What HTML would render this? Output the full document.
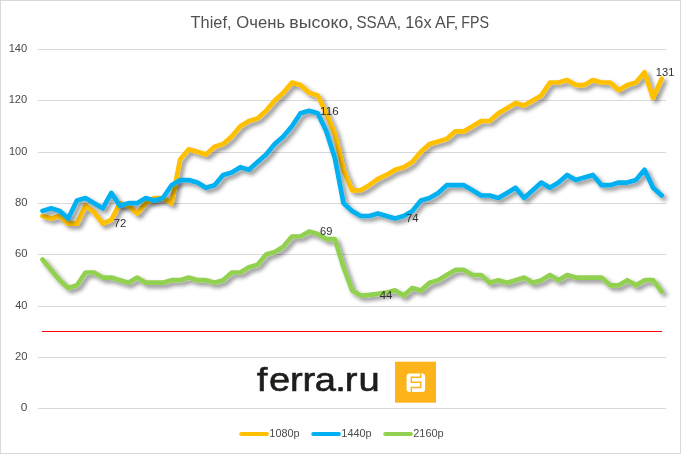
<!DOCTYPE html>
<html><head><meta charset="utf-8"><title>Thief, Очень высоко, SSAA, 16x AF, FPS</title>
<style>
html,body{margin:0;padding:0;background:#fff;}
svg{display:block;}
text{font-family:'Liberation Sans', Arial, sans-serif;}
.ax{font-size:10.8px;fill:#4a4a4a;}
.dl{font-size:10.8px;fill:#2e2e2e;}
.lg{font-size:10.8px;fill:#4a4a4a;}
.ttl{font-size:17.0px;fill:#505050;}
.logo{font-size:33.8px;fill:#1d1d1b;stroke:#1d1d1b;stroke-width:0.6;stroke-linejoin:round;}
.ser{fill:none;stroke-width:4.7;stroke-linecap:round;stroke-linejoin:round;}
</style></head>
<body>
<svg width="681" height="454" viewBox="0 0 681 454">
<defs>
<filter id="sh" x="-5%" y="-20%" width="110%" height="150%">
<feGaussianBlur in="SourceAlpha" stdDeviation="2.0"/>
<feOffset dx="2.6" dy="2.6" result="o"/>
<feComponentTransfer><feFuncA type="linear" slope="0.45"/></feComponentTransfer>
<feMerge><feMergeNode/><feMergeNode in="SourceGraphic"/></feMerge>
</filter>
</defs>
<rect x="0" y="0" width="681" height="454" fill="#fff"/>
<rect x="0.5" y="0.5" width="680" height="453" fill="none" stroke="#d9d9d9" stroke-width="1"/>
<text class="ttl"><tspan x="190.55" y="27.6" textLength="40.97" lengthAdjust="spacingAndGlyphs">Thief,</tspan> <tspan x="236.35" y="27.6" textLength="48.75" lengthAdjust="spacingAndGlyphs">Очень</tspan> <tspan x="289.35" y="27.6" textLength="63.82" lengthAdjust="spacingAndGlyphs">высоко,</tspan> <tspan x="356.45" y="27.6" textLength="44.59" lengthAdjust="spacingAndGlyphs">SSAA,</tspan> <tspan x="405.25" y="27.6" textLength="26.37" lengthAdjust="spacingAndGlyphs">16x</tspan> <tspan x="435.00" y="27.6" textLength="23.23" lengthAdjust="spacingAndGlyphs">AF,</tspan> <tspan x="461.35" y="27.6" textLength="27.73" lengthAdjust="spacingAndGlyphs">FPS</tspan></text>
<rect x="38" y="408" width="628" height="1" fill="#d9d9d9"/>
<rect x="38" y="357" width="628" height="1" fill="#d9d9d9"/>
<rect x="38" y="306" width="628" height="1" fill="#d9d9d9"/>
<rect x="38" y="254" width="628" height="1" fill="#d9d9d9"/>
<rect x="38" y="203" width="628" height="1" fill="#d9d9d9"/>
<rect x="38" y="152" width="628" height="1" fill="#d9d9d9"/>
<rect x="38" y="100" width="628" height="1" fill="#d9d9d9"/>
<rect x="38" y="49" width="628" height="1" fill="#d9d9d9"/>
<text x="20.80" y="411.2" textLength="6.63" lengthAdjust="spacingAndGlyphs" class="ax">0</text>
<text x="14.90" y="360.2" textLength="12.56" lengthAdjust="spacingAndGlyphs" class="ax">20</text>
<text x="15.15" y="309.2" textLength="12.28" lengthAdjust="spacingAndGlyphs" class="ax">40</text>
<text x="14.90" y="257.2" textLength="12.56" lengthAdjust="spacingAndGlyphs" class="ax">60</text>
<text x="14.90" y="206.2" textLength="12.56" lengthAdjust="spacingAndGlyphs" class="ax">80</text>
<text x="8.95" y="155.2" textLength="18.29" lengthAdjust="spacingAndGlyphs" class="ax">100</text>
<text x="8.65" y="103.2" textLength="18.56" lengthAdjust="spacingAndGlyphs" class="ax">120</text>
<text x="8.65" y="52.2" textLength="18.56" lengthAdjust="spacingAndGlyphs" class="ax">140</text>

<!-- logo -->
<text class="logo" transform="scale(1.13,1)" y="391.4" x="227.13 238.07 256.62 267.72 278.65 296.64 305.02 317.30">ferra.ru</text>
<rect x="395" y="361.7" width="41" height="41" fill="#fdb41a"/>
<rect x="406.6" y="373.4" width="18.5" height="18.6" rx="3" ry="3" fill="#fff"/>
<path d="M420.8 373.4 V377.3 H411.3 V382.3 H420.8 V387.5 H411.3 V392" fill="none" stroke="#fdb41a" stroke-width="1.4"/>
<!-- red line -->
<rect x="42" y="331" width="620" height="1" fill="#ff0000"/>
<!-- series -->
<polyline class="ser" stroke="#ffc000" filter="url(#sh)" points="42.5,216.0 51.1,218.6 59.7,216.0 68.3,223.7 76.9,223.7 85.5,205.7 94.1,212.1 102.7,223.7 111.3,219.8 119.9,203.2 128.5,205.7 137.1,213.4 145.7,203.2 154.3,198.0 162.9,198.0 171.5,203.2 180.1,159.5 188.7,149.3 197.3,151.8 205.9,154.4 214.5,146.7 223.1,144.1 231.7,136.4 240.3,126.2 248.9,121.0 257.5,118.5 266.1,110.8 274.7,100.5 283.3,92.8 291.9,82.5 300.5,85.1 309.1,92.8 317.7,95.4 326.3,113.3 334.9,133.9 343.5,169.8 352.1,190.3 360.7,190.3 369.3,185.2 377.9,178.8 386.5,174.9 395.1,169.8 403.7,167.2 412.3,162.1 420.9,151.8 429.5,144.1 438.1,141.6 446.7,139.0 455.3,131.3 463.9,131.3 472.5,126.2 481.1,121.0 489.7,121.0 498.3,113.3 506.9,108.2 515.5,103.1 524.1,105.6 532.7,100.5 541.3,95.4 549.9,82.5 558.5,82.5 567.1,80.0 575.7,85.1 584.3,85.1 592.9,80.0 601.5,82.5 610.1,82.5 618.7,90.2 627.3,85.1 635.9,82.5 644.5,72.3 653.1,97.9 661.7,78.7"/>
<polyline class="ser" stroke="#00b0f0" filter="url(#sh)" points="42.5,210.9 51.1,208.3 59.7,210.9 68.3,218.6 76.9,200.6 85.5,198.0 94.1,203.2 102.7,208.3 111.3,192.9 119.9,205.7 128.5,203.2 137.1,203.2 145.7,198.0 154.3,200.6 162.9,198.0 171.5,185.2 180.1,180.1 188.7,180.1 197.3,182.6 205.9,187.8 214.5,185.2 223.1,174.9 231.7,172.4 240.3,167.2 248.9,169.8 257.5,162.1 266.1,154.4 274.7,144.1 283.3,136.4 291.9,126.2 300.5,113.3 309.1,110.8 317.7,113.3 326.3,131.3 334.9,158.2 343.5,203.2 352.1,210.9 360.7,216.0 369.3,216.0 377.9,213.4 386.5,216.0 395.1,218.6 403.7,216.0 412.3,210.9 420.9,200.6 429.5,198.0 438.1,192.9 446.7,185.2 455.3,185.2 463.9,185.2 472.5,190.3 481.1,195.5 489.7,195.5 498.3,198.0 506.9,192.9 515.5,187.8 524.1,198.0 532.7,190.3 541.3,182.6 549.9,187.8 558.5,182.6 567.1,174.9 575.7,180.1 584.3,177.5 592.9,174.9 601.5,185.2 610.1,185.2 618.7,182.6 627.3,182.6 635.9,180.1 644.5,169.8 653.1,187.8 661.7,195.5"/>
<polyline class="ser" stroke="#92d050" filter="url(#sh)" points="42.5,259.6 51.1,269.9 59.7,280.2 68.3,287.9 76.9,285.3 85.5,272.5 94.1,272.5 102.7,277.6 111.3,277.6 119.9,280.2 128.5,282.7 137.1,277.6 145.7,282.7 154.3,282.7 162.9,282.7 171.5,280.2 180.1,280.2 188.7,277.6 197.3,280.2 205.9,280.2 214.5,282.7 223.1,280.2 231.7,272.5 240.3,272.5 248.9,267.3 257.5,264.8 266.1,254.5 274.7,251.9 283.3,246.8 291.9,236.5 300.5,236.5 309.1,231.4 317.7,234.0 326.3,239.1 334.9,239.1 343.5,267.3 352.1,290.4 360.7,295.6 369.3,294.8 377.9,293.8 386.5,292.5 395.1,290.4 403.7,295.6 412.3,287.9 420.9,290.4 429.5,282.7 438.1,280.2 446.7,275.0 455.3,269.9 463.9,269.9 472.5,275.0 481.1,275.0 489.7,282.7 498.3,280.2 506.9,282.7 515.5,280.2 524.1,277.6 532.7,282.7 541.3,280.2 549.9,275.0 558.5,280.2 567.1,275.0 575.7,277.6 584.3,277.6 592.9,277.6 601.5,277.6 610.1,285.3 618.7,285.3 627.3,280.2 635.9,285.3 644.5,280.2 653.1,280.2 661.7,291.7"/>
<text x="113.80" y="227.0" textLength="12.56" lengthAdjust="spacingAndGlyphs" class="dl">72</text>
<text x="320.05" y="114.8" textLength="18.57" lengthAdjust="spacingAndGlyphs" class="dl">116</text>
<text x="655.85" y="75.9" textLength="18.55" lengthAdjust="spacingAndGlyphs" class="dl">131</text>
<text x="405.90" y="221.9" textLength="12.55" lengthAdjust="spacingAndGlyphs" class="dl">74</text>
<text x="320.10" y="235.0" textLength="12.29" lengthAdjust="spacingAndGlyphs" class="dl">69</text>
<text x="379.65" y="299.0" textLength="12.54" lengthAdjust="spacingAndGlyphs" class="dl">44</text>

<!-- legend -->
<line x1="241.3" y1="434" x2="266.8" y2="434" stroke="#ffc000" stroke-width="4.2" stroke-linecap="round"/>
<text x="269.35" y="436.7" textLength="30.29" lengthAdjust="spacingAndGlyphs" class="lg">1080p</text>

<line x1="313.3" y1="434" x2="338.8" y2="434" stroke="#00b0f0" stroke-width="4.2" stroke-linecap="round"/>
<text x="341.35" y="436.7" textLength="30.29" lengthAdjust="spacingAndGlyphs" class="lg">1440p</text>

<line x1="385.3" y1="434" x2="410.8" y2="434" stroke="#92d050" stroke-width="4.2" stroke-linecap="round"/>
<text x="413.20" y="436.7" textLength="30.55" lengthAdjust="spacingAndGlyphs" class="lg">2160p</text>

</svg>
</body></html>
